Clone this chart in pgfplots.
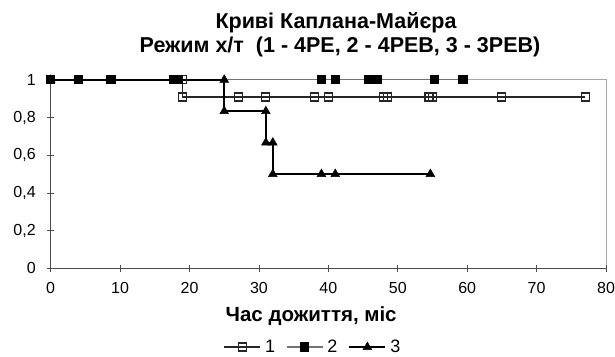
\documentclass[border=0pt]{standalone}
\usepackage{pgfplots}
\pgfplotsset{compat=1.18}
\usepackage{fontspec}
\setmainfont{Liberation Sans}
\begin{document}
\begin{tikzpicture}[x=1pt,y=1pt]
\path[use as bounding box] (-50.7,-87.7) rectangle (564.3,268.3);
\draw[black!35, line width=0.8pt] (0,188.5) -- (555.3,188.5) -- (555.3,0);
\begin{axis}[
  at={(0,0)}, anchor=origin,
  width=555.3pt, height=188.5pt, scale only axis,
  xmin=0, xmax=80, ymin=0, ymax=1,
  xtick={0,10,...,80},
  ytick={0,0.2,0.4,0.6,0.8,1},
  axis lines*=left,
  axis line style={black!70, line width=0.8pt},
  tick style={black!70, line width=0.8pt},
  tick align=center,
  major tick length=7pt,
  /pgf/number format/assume math mode=true,
  /pgf/number format/use comma,
  yticklabel style={/pgf/number format/fixed, /pgf/number format/precision=1, font=\fontsize{16}{19}\selectfont, xshift=-8pt},
  xticklabel style={font=\fontsize{16}{19}\selectfont, yshift=-7pt},
  xlabel={\textbf{Час дожиття, міс}},
  xlabel style={at={(0.469,-0.253)}, anchor=center, font=\fontsize{20.5}{24}\selectfont},
  clip=false,
  legend columns=3,
  legend style={draw=none, at={(0.472,-0.418)}, anchor=center, font=\fontsize{18}{20}\selectfont,
    inner sep=0pt, outer sep=0pt,
    /tikz/every odd column/.append style={column sep=2pt},
    /tikz/every even column/.append style={column sep=9pt}},
  legend image code/.code={
    \draw[#1,mark=none] (0pt,0pt) -- (36pt,0pt);
    \draw[#1,only marks] plot coordinates {(18pt,0pt)};
  },
]
\addplot[color=black!85, line width=1.8pt, mark=square, mark size=4pt,
  mark options={solid, fill=white, line width=1.2pt}]
  coordinates {(0,1) (19,1) (19,0.909) (27,0.909) (31,0.909) (38,0.909) (40,0.909) (48,0.909) (48.5,0.909) (54.5,0.909) (55,0.909) (65,0.909) (77,0.909)};
\addlegendentry{1}
\addplot[color=black!55, line width=1.4pt, mark=square*, mark size=4pt,
  mark options={solid, fill=black, draw=black}]
  coordinates {(0,1) (4,1) (8.7,1) (17.7,1) (18.4,1) (39,1) (41,1) (45.8,1) (47,1) (55.3,1) (59.4,1)};
\addlegendentry{2}
\addplot[color=black, line width=1.8pt, mark=triangle*, mark size=5pt,
  mark options={solid, fill=black, line width=0.5pt}]
  coordinates {(0,1) (25,1) (25,0.8333) (31,0.8333) (31,0.6667) (32,0.6667) (32,0.5) (39,0.5) (41,0.5) (54.7,0.5)};
\addlegendentry{3}
\end{axis}
\node[font=\bfseries\fontsize{21.5}{25}\selectfont] at (285.3,245.8) {Криві Каплана-Майєра};
\node[font=\bfseries\fontsize{21.5}{25}\selectfont] at (289.3,221.3) {Режим х/т\ \ (1 - 4PE, 2 - 4PEB, 3 - 3PEB)};
\end{tikzpicture}
\end{document}
